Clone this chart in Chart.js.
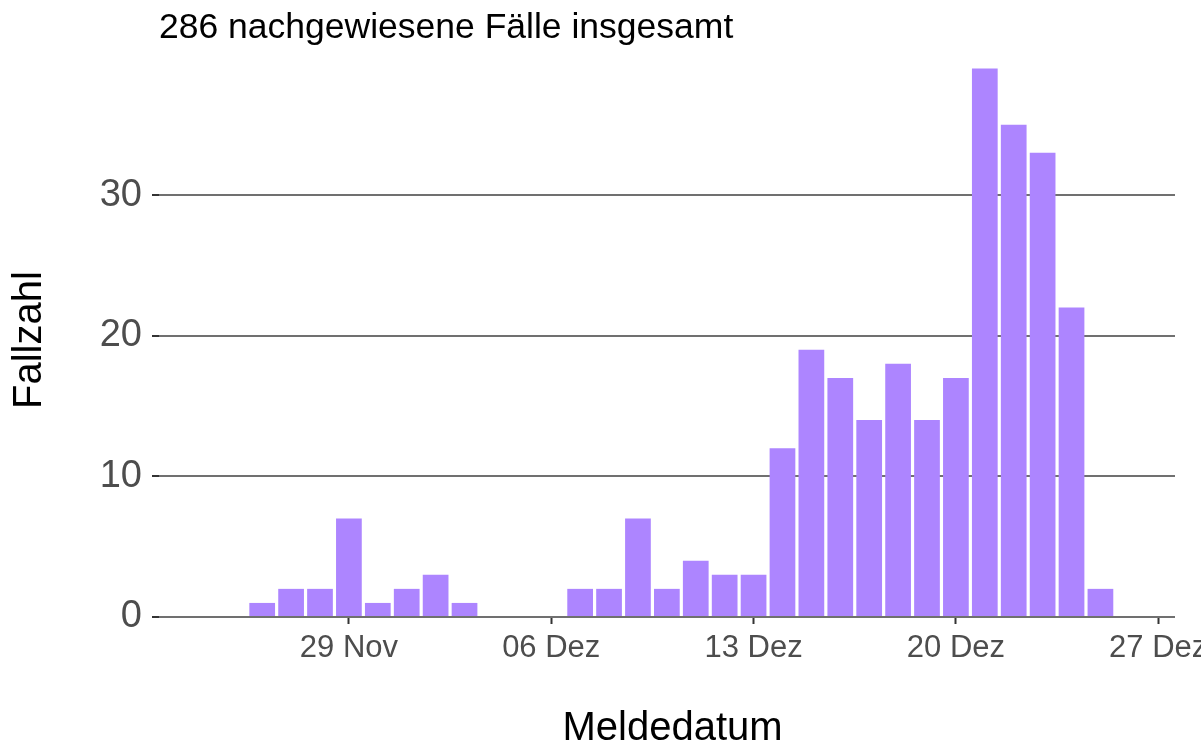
<!DOCTYPE html>
<html>
<head>
<meta charset="utf-8">
<script src="https://cdn.jsdelivr.net/npm/chart.js@4.4.1/dist/chart.umd.min.js"></script>
<style>
html, body { margin: 0; padding: 0; background: #fff; overflow: hidden; }
#wrap { width: 1220px; height: 744px; }
</style>
</head>
<body>
<div id="wrap"><canvas id="chart"></canvas></div>
<script>
// Meldedatum und Fallzahl pro Tag
const meldedatum = [
  '2021-11-26','2021-11-27','2021-11-28','2021-11-29','2021-11-30',
  '2021-12-01','2021-12-02','2021-12-03','2021-12-04','2021-12-05',
  '2021-12-06','2021-12-07','2021-12-08','2021-12-09','2021-12-10',
  '2021-12-11','2021-12-12','2021-12-13','2021-12-14','2021-12-15',
  '2021-12-16','2021-12-17','2021-12-18','2021-12-19','2021-12-20',
  '2021-12-21','2021-12-22','2021-12-23','2021-12-24','2021-12-25'
];
const fallzahl = [1,2,2,7,1,2,3,1,0,0,0,2,2,7,2,4,3,3,12,19,17,14,18,14,17,39,35,33,22,2];

const tickDates = ['2021-11-29','2021-12-06','2021-12-13','2021-12-20','2021-12-27'];
const tickLabels = ['29 Nov','06 Dez','13 Dez','20 Dez','27 Dez'];
const yTicks = [0, 10, 20, 30];

const origin = '2021-11-29';
const xLimits = [-6.57, 28.58];   // Tage relativ zu origin
const yLimits = [0, 40.95];

const dayOf = d => (Date.parse(d) - Date.parse(origin)) / 86400000;

const font = "'Liberation Sans', Arial, sans-serif";

new Chart(document.getElementById('chart'), {
  type: 'bar',
  data: {
    datasets: [{
      data: meldedatum.map((d, i) => ({ x: dayOf(d), y: fallzahl[i] })),
      backgroundColor: '#ad85ff',
      borderWidth: 0,
      barPercentage: 0.89,
      categoryPercentage: 1
    }]
  },
  options: {
    responsive: true,
    maintainAspectRatio: false,
    animation: false,
    layout: { padding: { left: 0, right: 45, top: 0, bottom: 0 } },
    plugins: {
      legend: { display: false },
      tooltip: { enabled: false },
      title: {
        display: true,
        text: '286 nachgewiesene Fälle insgesamt',
        align: 'start',
        fullSize: false,
        color: '#000',
        font: { family: font, size: 35.5, weight: 'normal', lineHeight: '26px' },
        padding: { top: 15, bottom: 0 }
      }
    },
    scales: {
      x: {
        type: 'linear',
        min: xLimits[0],
        max: xLimits[1],
        offset: false,
        afterBuildTicks: s => { s.ticks = tickDates.map(d => ({ value: dayOf(d) })); },
        afterFit: s => { s.height = 127; },
        ticks: {
          autoSkip: false,
          maxRotation: 0,
          padding: 6,
          color: '#4d4d4d',
          font: { family: font, size: 31 },
          callback: (v, i) => tickLabels[i]
        },
        grid: { offset: false, drawOnChartArea: false, drawTicks: true, tickLength: 7, tickColor: '#333', tickWidth: 2 },
        border: { display: false },
        title: {
          display: true,
          text: ' Meldedatum',
          color: '#000',
          font: { family: font, size: 40, lineHeight: 0.75 },
          padding: { top: 0, bottom: 0 }
        }
      },
      y: {
        min: yLimits[0],
        max: yLimits[1],
        afterBuildTicks: s => { s.ticks = yTicks.map(v => ({ value: v })); },
        afterFit: s => { s.width = 159; },
        ticks: {
          padding: 10,
          color: '#4d4d4d',
          font: { family: font, size: 38 }
        },
        grid: { color: '#707070', lineWidth: 2, tickLength: 7, tickColor: '#333', tickWidth: 2 },
        border: { display: false },
        title: {
          display: true,
          text: 'Fallzahl  ',
          color: '#000',
          font: { family: font, size: 40, lineHeight: 1 },
          padding: { top: 10, bottom: 0 }
        }
      }
    }
  }
});
</script>
</body>
</html>
